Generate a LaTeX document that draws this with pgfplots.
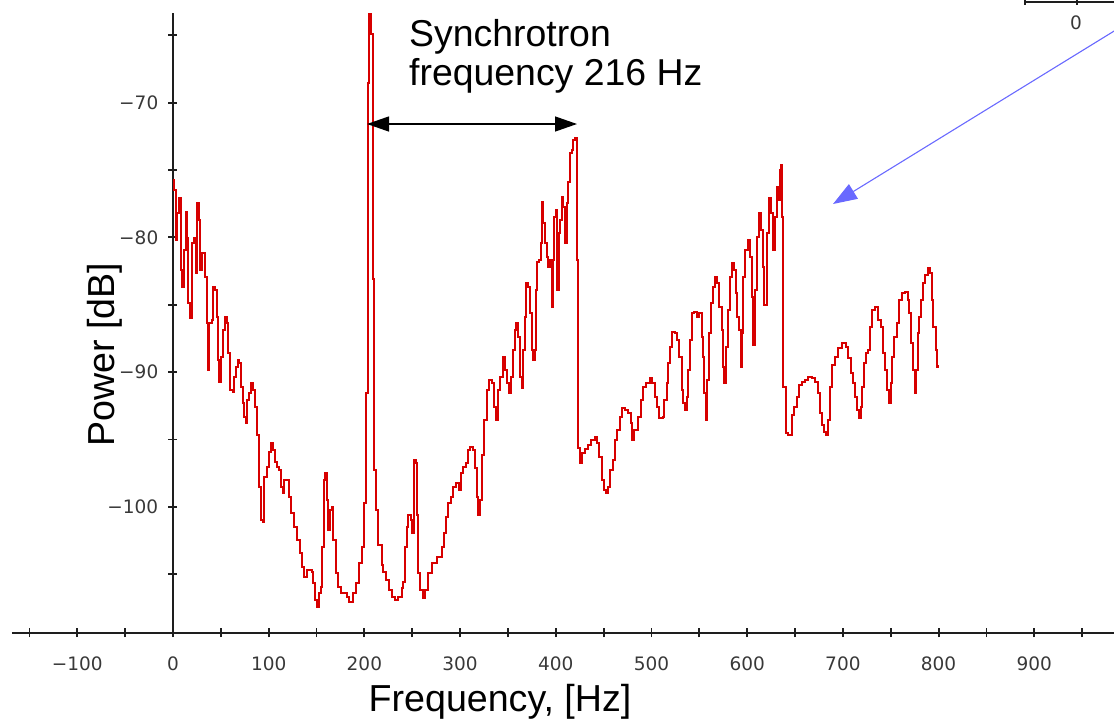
\documentclass[border=0pt]{standalone}
\usepackage{pgfplots}
\pgfplotsset{compat=1.18}
\usepackage{pgfplotstable}
\usepackage{fontspec}
\setmainfont{Liberation Sans}
\newfontfamily\tickfont{DejaVu Sans}
\usetikzlibrary{arrows.meta}
\definecolor{specred}{RGB}{215,0,0}
\definecolor{annblue}{RGB}{105,105,255}
\definecolor{axgray}{RGB}{30,30,30}

\pgfplotstableread{
f db
0 -75.74
1.0 -76.48
2.8 -80.20
4.5 -78.22
6.3 -77.10
8.0 -82.42
9.8 -83.66
11.5 -80.94
13.2 -78.09
15.0 -80.07
16.0 -84.90
17.8 -86.01
19.5 -80.44
21.9 -80.07
23.7 -82.67
25.4 -77.47
27.2 -78.71
28.2 -82.42
30.0 -81.19
31.7 -81.19
33.4 -82.92
35.2 -86.38
36.2 -89.85
38.0 -86.38
40.4 -86.14
42.1 -83.66
43.9 -83.91
45.6 -85.89
46.7 -89.11
48.1 -90.71
50.2 -88.86
52.2 -86.88
54.3 -85.89
56.1 -86.38
57.8 -88.61
59.9 -91.33
62.3 -91.46
64.1 -90.34
65.8 -89.60
67.6 -89.11
69.3 -89.35
71.0 -91.09
72.8 -92.32
74.5 -93.31
75.9 -93.81
77.7 -92.08
79.4 -91.58
81.5 -90.84
83.6 -91.33
85.7 -92.57
87.8 -94.67
89.9 -98.51
92.0 -100.98
93.7 -101.11
95.4 -97.77
97.9 -97.02
100.3 -95.91
102.4 -95.29
104.5 -95.79
106.6 -96.65
108.7 -97.02
110.8 -97.27
112.5 -98.51
114.6 -98.98
116.0 -98.01
118.0 -98.00
120.9 -99.25
123.0 -100.46
126.4 -101.48
129.9 -102.46
132.7 -103.43
134.8 -104.45
136.9 -105.19
139.7 -104.69
144.9 -104.82
146.6 -105.68
148.7 -106.92
150.2 -107.42
152.2 -106.40
154.3 -105.93
155.7 -102.96
157.8 -98.01
159.1 -97.51
160.6 -99.50
162.3 -101.72
164.1 -100.24
166.1 -99.99
167.5 -102.46
170.3 -104.94
172.7 -105.93
175.2 -106.42
181.5 -106.67
184.2 -107.04
188.4 -106.42
191.2 -105.68
194.7 -104.19
197.2 -102.96
199.6 -99.74
201.7 -91.55
203.5 -68.54
205.1 -63.20
206.9 -64.87
208.7 -83.09
209.7 -97.27
212.1 -100.24
214.5 -102.84
218.1 -104.32
219.8 -104.82
222.6 -105.43
225.4 -106.18
228.5 -106.67
232.0 -106.92
235.4 -106.67
239.0 -106.03
240.7 -105.56
242.4 -102.96
244.2 -101.48
245.9 -100.61
248.4 -100.98
250.1 -101.95
251.8 -96.53
253.6 -96.75
254.7 -100.61
255.7 -104.92
258.1 -106.18
260.9 -106.77
263.3 -106.18
266.8 -104.94
270.3 -104.19
275.6 -103.70
279.0 -103.70
280.8 -102.96
283.2 -101.97
285.3 -100.73
287.7 -99.74
290.2 -99.25
292.9 -98.51
295.7 -98.26
298.5 -98.75
300.6 -97.51
303.3 -97.02
306.2 -96.77
308.6 -95.78
310.3 -95.54
313.2 -95.78
315.6 -97.14
317.3 -99.25
319.0 -100.61
320.8 -99.50
322.6 -96.15
325.0 -93.56
327.8 -91.33
330.5 -90.59
333.0 -90.83
335.4 -92.57
337.5 -93.56
339.9 -91.33
341.7 -90.34
344.5 -88.86
346.9 -89.84
348.7 -90.83
350.8 -91.57
352.9 -90.34
355.0 -88.36
357.1 -86.87
358.4 -86.38
360.2 -87.37
362.6 -90.34
364.4 -91.20
366.0 -88.36
368.1 -85.89
368.9 -83.41
371.3 -83.66
373.1 -85.63
374.8 -88.36
376.5 -89.10
378.3 -88.36
379.3 -83.90
380.7 -81.80
382.8 -81.68
384.2 -80.44
385.6 -77.35
386.9 -78.95
388.7 -80.44
390.5 -81.43
391.8 -82.18
393.9 -81.68
395.7 -85.15
397.4 -81.68
398.4 -78.46
400.2 -77.97
401.6 -83.90
403.0 -79.70
404.4 -78.71
406.2 -76.98
407.8 -77.72
409.6 -80.44
411.4 -77.47
413.1 -75.86
414.9 -73.76
416.6 -73.51
418.3 -72.77
420.1 -72.64
421.8 -73.27
422.5 -81.68
423.5 -95.63
425.3 -96.77
427.1 -96.03
430.5 -95.70
434.0 -95.41
436.5 -95.04
441.0 -94.80
443.4 -95.29
445.5 -96.28
448.0 -98.01
450.4 -98.75
452.5 -99.00
454.9 -98.51
456.6 -97.27
459.5 -96.53
461.9 -95.04
464.3 -94.30
467.1 -93.31
468.8 -92.69
472.3 -92.81
475.8 -93.06
478.3 -93.80
479.9 -95.04
482.0 -94.30
486.2 -93.31
488.7 -92.07
491.4 -91.08
494.3 -90.83
498.4 -90.46
500.2 -90.83
503.7 -91.83
506.1 -92.57
508.2 -93.43
511.7 -93.31
513.4 -92.07
515.9 -90.83
517.6 -89.35
519.3 -88.11
521.1 -87.00
524.6 -87.12
527.0 -87.62
529.1 -88.86
531.6 -91.33
533.2 -92.32
535.0 -92.81
536.8 -91.83
538.5 -89.84
540.2 -87.62
542.0 -85.63
544.4 -85.52
547.2 -85.89
549.9 -85.63
552.5 -87.37
554.1 -88.86
555.2 -91.57
556.6 -93.56
558.3 -90.59
560.4 -87.12
562.2 -84.89
564.0 -83.66
566.3 -82.92
568.8 -83.41
570.9 -85.15
573.4 -86.87
575.0 -89.60
576.1 -90.83
577.9 -88.11
579.6 -85.39
582.0 -82.92
584.1 -81.92
586.2 -82.42
588.0 -84.15
589.7 -85.89
591.4 -86.87
593.2 -89.60
594.6 -87.12
595.9 -82.92
598.0 -80.94
600.5 -80.19
602.9 -81.43
604.7 -84.40
606.4 -87.99
608.2 -83.90
609.9 -79.95
612.3 -78.21
614.4 -79.45
616.2 -82.18
617.9 -85.02
620.4 -79.70
622.5 -77.10
624.6 -78.21
626.6 -80.94
628.7 -78.46
630.8 -76.24
632.5 -77.22
634.3 -75.00
635.6 -74.62
636.7 -78.46
637.7 -91.08
640.5 -94.54
642.9 -94.67
647.1 -93.18
649.2 -92.57
651.7 -91.83
654.1 -90.96
656.9 -90.71
660.4 -90.59
663.9 -90.34
667.4 -90.46
670.8 -90.71
673.7 -91.57
676.1 -93.06
678.5 -93.93
680.6 -94.42
682.0 -94.67
684.1 -93.56
686.5 -91.08
688.9 -89.47
691.7 -88.86
695.2 -88.23
698.7 -87.86
702.9 -88.11
705.6 -88.98
708.5 -90.09
710.9 -90.83
712.6 -91.83
714.4 -92.81
716.8 -93.43
718.9 -92.57
720.3 -91.08
722.0 -89.35
723.8 -88.60
725.9 -88.36
728.3 -86.63
730.7 -85.39
733.5 -85.14
736.4 -86.13
739.8 -86.63
741.9 -88.60
744.0 -89.84
746.1 -91.33
748.2 -92.32
750.3 -90.83
751.6 -88.86
753.7 -87.37
756.2 -86.38
758.6 -84.65
761.5 -84.15
764.9 -84.03
767.7 -84.65
769.4 -85.63
771.2 -87.86
772.9 -89.84
774.9 -91.57
776.4 -89.84
778.2 -87.12
779.8 -85.89
781.6 -84.65
783.4 -83.41
785.8 -82.79
788.6 -82.29
791.0 -82.66
792.8 -84.65
794.5 -86.63
797.0 -88.36
798.7 -89.60
799.8 -89.47
}\spectrum

\begin{document}
\begin{tikzpicture}
\begin{axis}[
  at={(12pt,-632.7pt)}, anchor=south west,
  scale only axis, width=1102pt, height=619.7pt,
  xmin=-168.2, xmax=983.3, ymin=-109.35, ymax=-63.34,
  axis x line=bottom, axis y line=middle,
  x axis line style={-}, y axis line style={-},
  axis line style={line width=2pt, color=axgray},
  hide obscured x ticks=false, hide obscured y ticks=false,
  xtick={-100,0,100,200,300,400,500,600,700,800,900},
  xticklabels={−100,0,100,200,300,400,500,600,700,800,900},
  minor xtick={-150,-50,50,150,250,350,450,550,650,750,850,950},
  ytick={-100,-90,-80,-70},
  yticklabels={−100,−90,−80,−70},
  minor ytick={-105,-95,-85,-75,-65},
  tick align=center, major tick length=9pt, minor tick length=9pt,
  every tick/.style={line width=1.8pt, color=axgray},
  every minor tick/.style={line width=1.8pt, color=axgray},
  /pgf/number format/assume math mode=true,
  ticklabel style={font=\tickfont\fontsize{18.5}{21}\selectfont, text=black!78},
  xticklabel style={anchor=north, inner sep=0pt, yshift=-19.5pt},
  yticklabel style={anchor=east, inner sep=0pt, xshift=-10pt},
  clip=true,
]
\addplot[const plot, color=specred, line width=2pt, line join=miter] table {\spectrum};
\end{axis}
\begin{scope}[x=1pt,y=-1pt]
\node[anchor=base, inner sep=0pt, font=\fontsize{37.6}{42}\selectfont] at (500,711.7) {Frequency, [Hz]};
\node[rotate=90, anchor=base, inner sep=0pt, font=\fontsize{37.6}{42}\selectfont] at (114,355) {Power [dB]};
\node[anchor=base west, inner sep=0pt, font=\fontsize{37.4}{42}\selectfont] at (409,46.7) {Synchrotron};
\node[anchor=base west, inner sep=0pt, font=\fontsize{37.4}{42}\selectfont] at (409,85) {frequency 216 Hz};
\draw[line width=1.3pt, {Triangle[length=22pt,width=15pt]}-{Triangle[length=22pt,width=15pt]}] (367,124) -- (577,124);
\draw[annblue, line width=1.1pt, -{Triangle[length=24pt,width=17pt]}] (1140,15.1) -- (833,204);
\draw[line width=1.6pt, axgray] (1025,1.7) -- (1125,1.7);
\draw[line width=1.6pt, axgray] (1025,-3) -- (1025,5) (1076.7,-3) -- (1076.7,5);
\node[font=\tickfont\fontsize{18.5}{21}\selectfont, text=black!78, inner sep=0pt] at (1076,23) {0};
\end{scope}
\pgfresetboundingbox
\useasboundingbox (0,0) rectangle (1114pt,-718pt);
\end{tikzpicture}
\end{document}
